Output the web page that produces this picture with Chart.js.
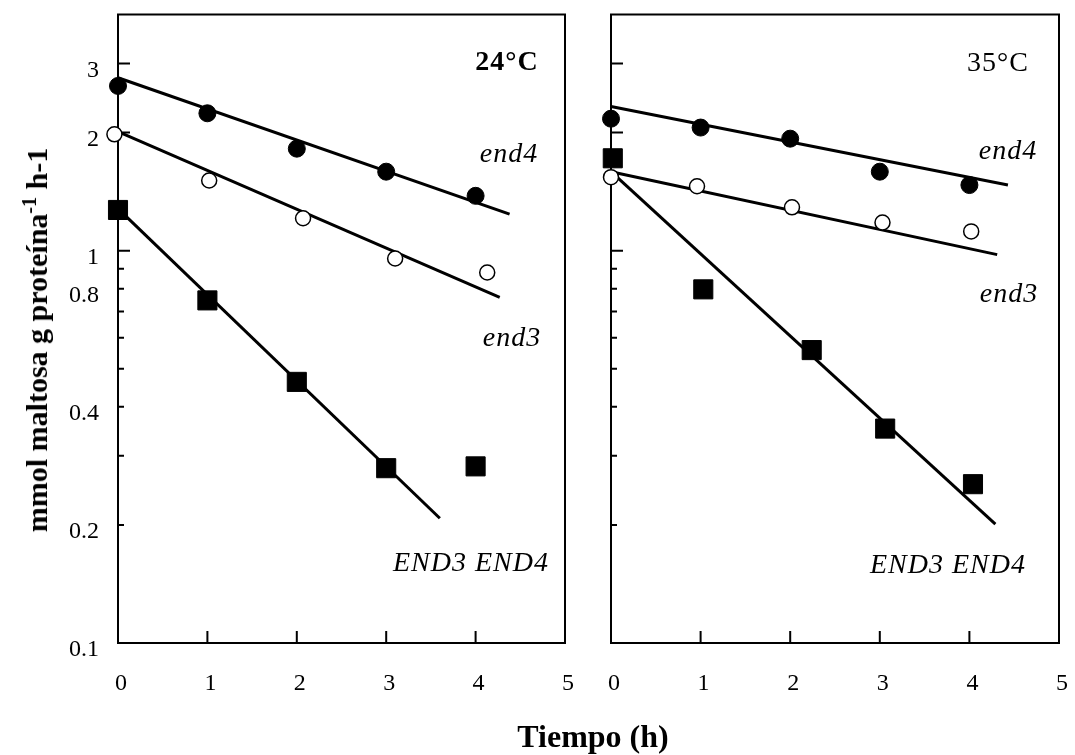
<!DOCTYPE html>
<html lang="es">
<head>
<meta charset="UTF-8">
<title>Actividad maltasa</title>
<script src="https://cdn.jsdelivr.net/npm/chart.js"></script>
<style>
    body { margin: 0; background: #fff; }
    #wrap { position: relative; width: 1075px; height: 755px; overflow: hidden; font-family: "Liberation Serif", serif; color: #000; }
    canvas { position: absolute; top: 0; }
    #c24 { left: 0; }
    #c35 { left: 580px; }
    .txt { position: absolute; transform: translate(-50%, -50%); white-space: nowrap; line-height: 1; }
    .lbl { font-size: 28px; font-style: italic; letter-spacing: 1px; }
    .temp { font-size: 28px; letter-spacing: 1px; }
    #ytitle { left: 37px; top: 340px; font-size: 30px; font-weight: bold; transform: translate(-50%, -50%) rotate(-90deg); }
    #ytitle sup { font-size: 20px; line-height: 0; }
    #xtitle { left: 593px; top: 736px; font-size: 32px; font-weight: bold; }
</style>
</head>
<body>
<div id="wrap">
    <canvas id="c24" width="580" height="755"></canvas>
    <canvas id="c35" width="495" height="755"></canvas>
    <div class="txt" id="ytitle">mmol maltosa g proteína<sup>-1</sup> h-1</div>
    <div class="txt" id="xtitle">Tiempo (h)</div>
    <div class="txt temp" style="left:507px;top:61px;font-weight:bold">24°C</div>
    <div class="txt lbl" style="left:509px;top:153px">end4</div>
    <div class="txt lbl" style="left:512px;top:337px">end3</div>
    <div class="txt lbl" style="left:471px;top:562px">END3 END4</div>
    <div class="txt temp" style="left:998px;top:62px">35°C</div>
    <div class="txt lbl" style="left:1008px;top:150px">end4</div>
    <div class="txt lbl" style="left:1009px;top:293px">end3</div>
    <div class="txt lbl" style="left:948px;top:564px">END3 END4</div>
</div>
<script>
    // tiempo (h)
    const hours = [0, 1, 2, 3, 4];
    const xTicks = [0, 1, 2, 3, 4, 5];
    const yTicks = [0.1, 0.2, 0.3, 0.4, 0.5, 0.6, 0.7, 0.8, 0.9, 1, 2, 3, 4];
    const yLabels = [0.1, 0.2, 0.4, 0.8, 1, 2, 3];

    // 24 °C
    const end4At24 = [2.63, 2.24, 1.82, 1.59, 1.38];
    const end3At24x = [-0.04, 1.02, 2.07, 3.1, 4.13];
    const end3At24 = [1.98, 1.51, 1.21, 0.955, 0.88];
    const wildAt24 = [1.27, 0.747, 0.463, 0.279, 0.282];
    const fitEnd4At24x = [0, 4.38], fitEnd4At24 = [2.76, 1.24];
    const fitEnd3At24x = [0, 4.27], fitEnd3At24 = [2.01, 0.76];
    const fitWildAt24x = [0, 3.6], fitWildAt24 = [1.28, 0.208];

    // 35 °C
    const end4At35 = [2.17, 2.06, 1.93, 1.59, 1.47];
    const end3At35x = [0, 0.96, 2.02, 3.03, 4.02];
    const end3At35 = [1.54, 1.46, 1.29, 1.18, 1.12];
    const wildAt35x = [0.02, 1.03, 2.24, 3.06, 4.04];
    const wildAt35 = [1.72, 0.797, 0.558, 0.352, 0.254];
    const fitEnd4At35x = [0, 4.43], fitEnd4At35 = [2.33, 1.47];
    const fitEnd3At35x = [0, 4.31], fitEnd3At35 = [1.59, 0.977];
    const fitWildAt35x = [0, 4.29], fitWildAt35 = [1.59, 0.201];

    Chart.defaults.color = '#000';
    Chart.defaults.font.family = '"Liberation Serif", serif';

    const pts = (xs, ys) => ys.map((v, i) => ({ x: xs[i], y: v }));

    function filled(xs, ys) {
        return { data: pts(xs, ys), showLine: false, pointStyle: 'circle', pointRadius: 8.5,
                 backgroundColor: '#000', borderColor: '#000', borderWidth: 1, clip: false, order: 0 };
    }
    function open(xs, ys) {
        return { data: pts(xs, ys), showLine: false, pointStyle: 'circle', pointRadius: 7.5,
                 backgroundColor: '#fff', borderColor: '#000', borderWidth: 1.5, clip: false, order: 0 };
    }
    function square(xs, ys) {
        return { data: pts(xs, ys), showLine: false, pointStyle: 'rect', pointRadius: 13.5,
                 backgroundColor: '#000', borderColor: '#000', borderWidth: 1, clip: false, order: 0 };
    }
    function fit(xs, ys) {
        return { data: pts(xs, ys), showLine: true, pointRadius: 0, borderColor: '#000',
                 borderWidth: 3, clip: false, order: 1 };
    }

    // marco y marcas hacia dentro
    const frameTicks = {
        id: 'frameTicks',
        beforeDatasetsDraw(chart) {
            const { ctx, chartArea: a, scales: { x, y } } = chart;
            ctx.save();
            ctx.strokeStyle = '#000';
            ctx.lineWidth = 2;
            ctx.strokeRect(a.left, a.top, a.right - a.left, a.bottom - a.top);
            ctx.beginPath();
            xTicks.slice(1, -1).forEach(v => {
                const px = x.getPixelForValue(v);
                ctx.moveTo(px, a.bottom);
                ctx.lineTo(px, a.bottom - 12);
            });
            yTicks.slice(1, -1).forEach(v => {
                const py = y.getPixelForValue(v);
                const len = v >= 1 ? 12 : 6;
                ctx.moveTo(a.left, py);
                ctx.lineTo(a.left + len, py);
            });
            ctx.stroke();
            ctx.restore();
        }
    };

    function makeChart(id, datasets, yWidth, padRight, showYLabels) {
        return new Chart(document.getElementById(id), {
            type: 'scatter',
            data: { datasets: datasets },
            plugins: [frameTicks],
            options: {
                responsive: false,
                animation: false,
                layout: { padding: { top: 13, right: padRight, left: 0, bottom: 0 } },
                plugins: { legend: { display: false }, tooltip: { enabled: false } },
                scales: {
                    x: {
                        type: 'linear', min: 0, max: 5,
                        afterBuildTicks: s => { s.ticks = xTicks.map(v => ({ value: v })); },
                        afterFit: s => { s.height = 112; s.paddingLeft = 0; s.paddingRight = 0; },
                        grid: { display: false, drawTicks: false },
                        border: { display: false },
                        ticks: { font: { size: 24 }, padding: 26, labelOffset: 3, maxRotation: 0 }
                    },
                    y: {
                        type: 'logarithmic', min: 0.1, max: 4,
                        afterBuildTicks: s => { s.ticks = yTicks.map(v => ({ value: v })); },
                        afterFit: s => { s.width = yWidth; s.paddingTop = 0; s.paddingBottom = 0; },
                        grid: { display: false, drawTicks: false },
                        border: { display: false },
                        ticks: {
                            display: showYLabels, autoSkip: false, font: { size: 24 }, padding: 19, labelOffset: 7,
                            callback: v => yLabels.includes(v) ? String(v) : ''
                        }
                    }
                }
            }
        });
    }

    makeChart('c24', [
        filled(hours, end4At24),
        open(end3At24x, end3At24),
        square(hours, wildAt24),
        fit(fitEnd4At24x, fitEnd4At24),
        fit(fitEnd3At24x, fitEnd3At24),
        fit(fitWildAt24x, fitWildAt24)
    ], 118, 15, true);

    makeChart('c35', [
        filled(hours, end4At35),
        open(end3At35x, end3At35),
        square(wildAt35x, wildAt35),
        fit(fitEnd4At35x, fitEnd4At35),
        fit(fitEnd3At35x, fitEnd3At35),
        fit(fitWildAt35x, fitWildAt35)
    ], 31, 16, false);
</script>
</body>
</html>
